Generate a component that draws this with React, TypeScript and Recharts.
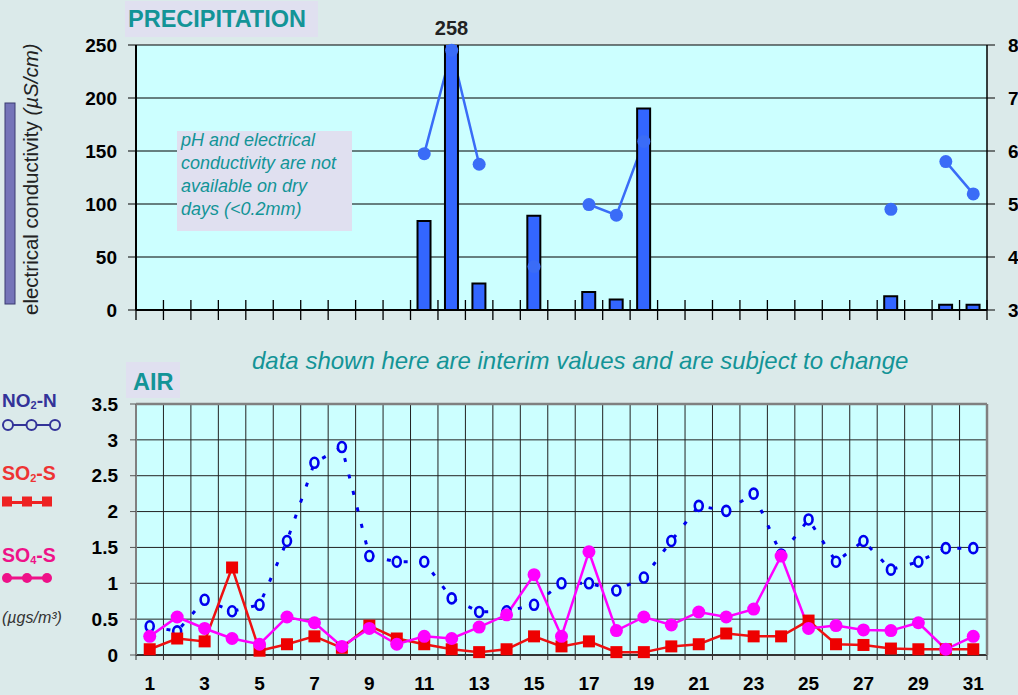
import React from "react";
import {
  ComposedChart,
  Bar,
  Line,
  XAxis,
  YAxis,
  CartesianGrid,
  LabelList,
  ReferenceLine,
} from "recharts";

const FONT = "Arial, 'Liberation Sans', sans-serif";
const TEAL = "#139497";
const LAVENDER = "#e0e0f0";
const PLOT_BG = "#ccffff";

const DAYS = [
  "1", "2", "3", "4", "5", "6", "7", "8", "9", "10",
  "11", "12", "13", "14", "15", "16", "17", "18", "19", "20",
  "21", "22", "23", "24", "25", "26", "27", "28", "29", "30", "31",
];

// precipitation bars (left axis) – null = dry day
const PRECIP = [
  null, null, null, null, null, null, null, null, null, null,
  84, 258, 25, null, 89, null, 17, 10, 190, null,
  null, null, null, null, null, null, null, 13, null, 5, 5,
];

// pH (right axis)
const PH = [
  null, null, null, null, null, null, null, null, null, null,
  5.95, 7.9, 5.75, null, 3.82, null, 4.99, 4.79, 6.18, null,
  null, null, null, null, null, null, null, 4.9, null, 5.8, 5.19,
];

const NO2_N = [
  0.4, 0.33, 0.77, 0.61, 0.7, 1.59, 2.68, 2.9, 1.38, 1.3,
  1.3, 0.79, 0.6, 0.61, 0.7, 1.0, 1.0, 0.9, 1.08, 1.59,
  2.08, 2.01, 2.25, 1.4, 1.89, 1.3, 1.59, 1.19, 1.3, 1.49, 1.49,
];

const SO2_S = [
  0.08, 0.23, 0.19, 1.22, 0.06, 0.15, 0.26, 0.1, 0.41, 0.23,
  0.15, 0.08, 0.04, 0.08, 0.26, 0.12, 0.19, 0.04, 0.04, 0.12,
  0.15, 0.3, 0.26, 0.26, 0.48, 0.15, 0.14, 0.09, 0.08, 0.08, 0.08,
];

const SO4_S = [
  0.26, 0.53, 0.37, 0.23, 0.15, 0.53, 0.45, 0.12, 0.37, 0.15,
  0.26, 0.23, 0.39, 0.56, 1.12, 0.26, 1.44, 0.34, 0.53, 0.42,
  0.6, 0.53, 0.64, 1.38, 0.37, 0.41, 0.35, 0.34, 0.45, 0.08, 0.26,
];

const PRECIP_TICKS = [0, 50, 100, 150, 200, 250];
const PH_TICKS = [3, 4, 5, 6, 7, 8];
const AIR_TICKS = [0, 0.5, 1, 1.5, 2, 2.5, 3, 3.5];

const PRECIP_MAX = PRECIP_TICKS[PRECIP_TICKS.length - 1];
const AIR_MAX = AIR_TICKS[AIR_TICKS.length - 1];

const precipData = DAYS.map((day, i) => ({ day, precip: PRECIP[i], ph: PH[i] }));
const airData = DAYS.map((day, i) => ({
  day,
  no2: NO2_N[i],
  so2: SO2_S[i],
  so4: SO4_S[i],
}));

const tickText = { fontSize: 19, fontWeight: 700, fill: "#000", fontFamily: FONT };

function halfBand(props: any) {
  const w = Number.isFinite(props.width) ? props.width : 851;
  const n = props.visibleTicksCount || DAYS.length;
  return w / n / 2;
}

// tick marks on category boundaries, crossing the axis line
function PrecipTick(props: any) {
  const { x, y, index, visibleTicksCount } = props;
  const h = halfBand(props);
  return (
    <g>
      <line x1={x - h} x2={x - h} y1={y - 10} y2={y + 10} stroke="#000" strokeWidth={1.3} />
      {index === visibleTicksCount - 1 && (
        <line x1={x + h} x2={x + h} y1={y - 10} y2={y + 10} stroke="#000" strokeWidth={1.3} />
      )}
    </g>
  );
}

function AirTick(props: any) {
  const { x, y, index, visibleTicksCount, payload } = props;
  const h = halfBand(props);
  return (
    <g>
      <line x1={x - h} x2={x - h} y1={y} y2={y + 5} stroke="#333" strokeWidth={1} />
      {index === visibleTicksCount - 1 && (
        <line x1={x + h} x2={x + h} y1={y} y2={y + 5} stroke="#333" strokeWidth={1} />
      )}
      {index % 2 === 0 && (
        <text x={x} y={y + 35} textAnchor="middle" {...tickText}>
          {payload.value}
        </text>
      )}
    </g>
  );
}

function OverflowLabel(props: any) {
  const { x, y, width, value } = props;
  if (value == null || value <= PRECIP_MAX) return null;
  return (
    <text
      x={x + width / 2}
      y={y - 2}
      textAnchor="middle"
      fontSize={20}
      fontWeight={700}
      fill="#222"
      fontFamily={FONT}
    >
      {value}
    </text>
  );
}

function NO2Dot(props: any) {
  const { cx, cy, index } = props;
  if (cx == null || cy == null) return null;
  return (
    <ellipse key={`no2-${index}`} cx={cx} cy={cy} rx={4} ry={5} fill={PLOT_BG} stroke="#0000ee" strokeWidth={2.6} />
  );
}

function SO2Dot(props: any) {
  const { cx, cy, index } = props;
  if (cx == null || cy == null) return null;
  return <rect key={`so2-${index}`} x={cx - 6} y={cy - 6} width={12} height={12} fill="#ee0000" />;
}

function verticalBoundaries(props: any) {
  const off = props.offset || { left: 136, width: 851 };
  const step = off.width / DAYS.length;
  return DAYS.slice(1).map((_, i) => off.left + (i + 1) * step);
}

function Overlay() {
  return (
    <svg
      width={1018}
      height={695}
      style={{ position: "absolute", left: 0, top: 0, pointerEvents: "none" }}
      fontFamily={FONT}
    >
      <rect x={125} y={1} width={193} height={36} fill={LAVENDER} />
      <text x={128} y={27} fontSize={23.5} fontWeight={700} fill={TEAL}>
        PRECIPITATION
      </text>

      <rect x={5} y={103} width={10} height={201} fill="#7474b8" stroke="#3a3a70" strokeWidth={1} />
      <text transform="translate(38,315) rotate(-90)" fontSize={20.5} fill="#222">
        electrical conductivity <tspan fontStyle="italic">(µS/cm)</tspan>
      </text>

      <rect x={177} y={131} width={175} height={100} fill={LAVENDER} />
      <g fontSize={18} fontStyle="italic" fill={TEAL}>
        <text x={181} y={146}>pH and electrical</text>
        <text x={181} y={169}>conductivity are not</text>
        <text x={181} y={192}>available on dry</text>
        <text x={181} y={215}>days (&lt;0.2mm)</text>
      </g>

      <text x={252} y={369} fontSize={24} fontStyle="italic" fill={TEAL}>
        data shown here are interim values and are subject to change
      </text>

      <rect x={126} y={362} width={54} height={36} fill={LAVENDER} />
      <text x={133} y={390} fontSize={23.5} fontWeight={700} fill={TEAL}>
        AIR
      </text>

      {/* legend */}
      <text x={2} y={407} fontSize={19} fontWeight={700} fill="#333399">
        NO<tspan fontSize={11} dy={2}>2</tspan>
        <tspan dy={-2}>-N</tspan>
      </text>
      <g stroke="#333399" strokeWidth={2}>
        <line x1={12} x2={27} y1={425} y2={425} />
        <line x1={36} x2={51} y1={425} y2={425} />
        <ellipse cx={8} cy={425} rx={5} ry={5} fill="none" />
        <ellipse cx={31.5} cy={425} rx={5} ry={5} fill="none" />
        <ellipse cx={55} cy={425} rx={5} ry={5} fill="none" />
      </g>

      <text x={2} y={480} fontSize={19.5} fontWeight={700} fill="#ee3333">
        SO<tspan fontSize={11} dy={2}>2</tspan>
        <tspan dy={-2}>-S</tspan>
      </text>
      <g fill="#ee2222">
        <rect x={2} y={501} width={46} height={3} />
        <rect x={2} y={496.5} width={10} height={10} />
        <rect x={22} y={496.5} width={10} height={10} />
        <rect x={42} y={496.5} width={10} height={10} />
      </g>

      <text x={2} y={562} fontSize={19.5} fontWeight={700} fill="#ee1188">
        SO<tspan fontSize={11} dy={2}>4</tspan>
        <tspan dy={-2}>-S</tspan>
      </text>
      <g fill="#ee1188">
        <rect x={7} y={576.5} width={40} height={3} />
        <circle cx={7} cy={578} r={5} />
        <circle cx={27} cy={578} r={5} />
        <circle cx={47} cy={578} r={5} />
      </g>

      <text x={2} y={623} fontSize={16} fontStyle="italic" fill="#333">
        (µgs/m³)
      </text>
    </svg>
  );
}

export default function App() {
  return (
    <div
      style={{
        position: "fixed",
        left: 0,
        top: 0,
        width: 1018,
        height: 695,
        overflow: "hidden",
        background: "#dbeaea",
        fontFamily: FONT,
      }}
    >
      <div style={{ position: "absolute", left: 0, top: 0 }}>
        <ComposedChart
          width={1030}
          height={330}
          data={precipData}
          margin={{ top: 45, right: 0, bottom: 0, left: 0 }}
        >
          <CartesianGrid vertical={false} stroke="#000" fill={PLOT_BG} fillOpacity={1} />
          <XAxis
            dataKey="day"
            scale="band"
            height={20}
            interval={0}
            tickLine={false}
            tickSize={0}
            tickMargin={0}
            axisLine={{ stroke: "#000", strokeWidth: 2 }}
            tick={<PrecipTick />}
          />
          <YAxis
            width={136}
            domain={[0, PRECIP_MAX]}
            ticks={PRECIP_TICKS}
            allowDataOverflow
            tickSize={8}
            tickMargin={11}
            tick={tickText}
            tickLine={{ stroke: "#000" }}
            axisLine={{ stroke: "#000", strokeWidth: 2 }}
          />
          <YAxis
            yAxisId="ph"
            orientation="right"
            width={43}
            domain={[3, 8]}
            ticks={PH_TICKS}
            tickSize={8}
            tickMargin={13}
            tick={tickText}
            tickLine={{ stroke: "#000" }}
            axisLine={{ stroke: "#000", strokeWidth: 1.5 }}
          />
          <Line
            yAxisId="ph"
            dataKey="ph"
            type="linear"
            stroke="#3a6cf7"
            strokeWidth={2.5}
            dot={{ r: 6.5, fill: "#3a6cf7", stroke: "#3a6cf7", strokeWidth: 0 }}
            activeDot={false}
            connectNulls={false}
            isAnimationActive={false}
            zIndex={100}
          />
          <Bar
            dataKey="precip"
            barSize={13}
            fill="#3366ff"
            stroke="#000"
            strokeWidth={2}
            isAnimationActive={false}
            zIndex={200}
          >
            <LabelList dataKey="precip" content={<OverflowLabel />} />
          </Bar>
        </ComposedChart>
      </div>

      <div style={{ position: "absolute", left: 0, top: 380 }}>
        <ComposedChart
          width={1030}
          height={315}
          data={airData}
          margin={{ top: 24, right: 0, bottom: 0, left: 0 }}
        >
          <CartesianGrid
            stroke="#222"
            fill={PLOT_BG}
            fillOpacity={1}
            verticalCoordinatesGenerator={verticalBoundaries}
          />
          <XAxis
            dataKey="day"
            scale="band"
            height={40}
            interval={0}
            tickLine={false}
            tickSize={0}
            tickMargin={0}
            axisLine={{ stroke: "#333", strokeWidth: 2 }}
            tick={<AirTick />}
          />
          <YAxis
            width={136}
            domain={[0, AIR_MAX]}
            ticks={AIR_TICKS}
            tickSize={6}
            tickMargin={12}
            tick={tickText}
            tickLine={{ stroke: "#555" }}
            axisLine={{ stroke: "#808080", strokeWidth: 2 }}
          />
          <YAxis
            yAxisId="right"
            orientation="right"
            width={43}
            domain={[0, AIR_MAX]}
            ticks={AIR_TICKS}
            tick={false}
            tickLine={false}
            axisLine={{ stroke: "#808080", strokeWidth: 2.5 }}
          />
          <ReferenceLine y={AIR_MAX} stroke="#808080" strokeWidth={2.5} />
          <Line
            dataKey="no2"
            type="linear"
            stroke="#0000ee"
            strokeWidth={3}
            strokeDasharray="4 13"
            dot={<NO2Dot />}
            activeDot={false}
            isAnimationActive={false}
          />
          <Line
            dataKey="so2"
            type="linear"
            stroke="#ee1111"
            strokeWidth={2.5}
            dot={<SO2Dot />}
            activeDot={false}
            isAnimationActive={false}
          />
          <Line
            dataKey="so4"
            type="linear"
            stroke="#ff00ff"
            strokeWidth={2.5}
            dot={{ r: 6.5, fill: "#ff00ff", stroke: "#ff00ff", strokeWidth: 0 }}
            activeDot={false}
            isAnimationActive={false}
          />
        </ComposedChart>
      </div>

      <Overlay />
    </div>
  );
}
